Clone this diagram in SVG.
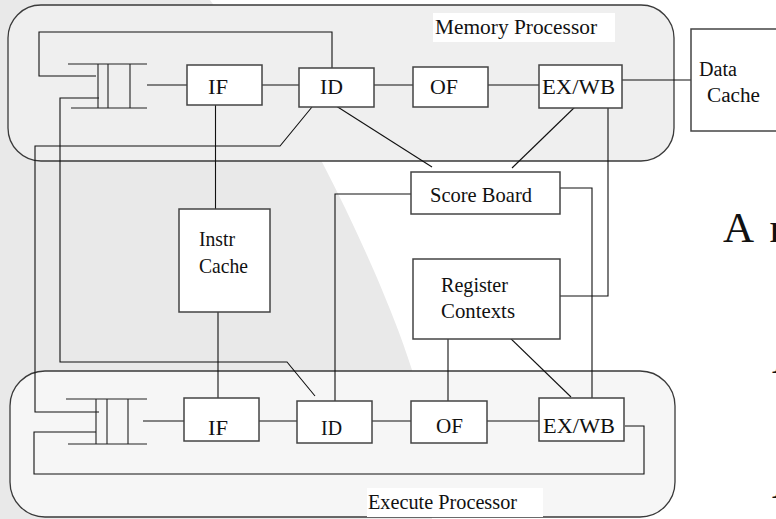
<svg xmlns="http://www.w3.org/2000/svg" width="776" height="519" viewBox="0 0 776 519">
<style>
.bg{fill:#e9e9e9}
.proc{stroke:#3a3a3a;stroke-width:1.3}
.node{fill:#ffffff;stroke:#444;stroke-width:1.5}
.ln{fill:none;stroke:#111;stroke-width:1.1}
.q{fill:none;stroke:#222;stroke-width:1.1}
text{font-family:"Liberation Serif","Times New Roman",serif;font-size:22px;fill:#111}
.lbl{fill:#ffffff}
</style>
<rect class="bg" x="0" y="0" width="776" height="519"/>
<path d="M210,0 C255,62 298,118 322,162 C360,235 396,318 412,370 L432,519 L776,519 L776,0 Z" fill="#ffffff"/>

<g id="memory-processor">
<rect class="proc" x="8" y="5" width="666" height="156" rx="33" ry="33" fill="#efefef"/>
<rect class="lbl" x="433" y="13" width="182" height="29"/>
<text x="435" y="34" textLength="162" lengthAdjust="spacingAndGlyphs">Memory Processor</text>
</g>
<g id="execute-processor">
<rect class="proc" x="10" y="371" width="665" height="146" rx="35" ry="35" fill="#f6f6f6"/>
<rect class="lbl" x="367" y="488" width="176" height="29"/>
<text x="368" y="509" textLength="149" lengthAdjust="spacingAndGlyphs">Execute Processor</text>
</g>

<g id="connectors">
<polyline class="ln" points="332,68 332,32 39,32 39,76 96,76"/>
<polyline class="ln" points="99,98 60,98 60,362 287,362 315,396"/>
<polyline class="ln" points="312,107 280,146 35,146 35,412 99,412"/>
<polyline class="ln" points="625,426 644,426 644,474 34,474 34,432 96,432"/>
<line class="ln" x1="147" y1="85" x2="187" y2="85"/>
<line class="ln" x1="262" y1="85" x2="299" y2="85"/>
<line class="ln" x1="374" y1="85" x2="413" y2="85"/>
<line class="ln" x1="488" y1="85" x2="539" y2="85"/>
<line class="ln" x1="622" y1="80" x2="691" y2="80"/>
<line class="ln" x1="143" y1="421" x2="184" y2="421"/>
<line class="ln" x1="259" y1="421" x2="297" y2="421"/>
<line class="ln" x1="372" y1="421" x2="411" y2="421"/>
<line class="ln" x1="487" y1="421" x2="539" y2="421"/>
<line class="ln" x1="215.5" y1="105" x2="215.5" y2="209"/>
<line class="ln" x1="218" y1="312" x2="218" y2="398"/>
<line class="ln" x1="333" y1="104" x2="432" y2="167"/>
<line class="ln" x1="577" y1="105" x2="512" y2="168"/>
<polyline class="ln" points="411,194 335,194 335,401"/>
<polyline class="ln" points="560,188 592,188 592,398"/>
<polyline class="ln" points="608,107 608,296 556,296"/>
<line class="ln" x1="448" y1="338" x2="448" y2="401"/>
<line class="ln" x1="508" y1="336" x2="571" y2="397"/>
</g>

<g id="queue-top">
<path class="q" d="M68,64 H147 M71,108 H147 M98,64 V108 M108,64 V108 M130,64 V108"/>
</g>
<g id="if-top"><rect class="node" x="187" y="65" width="75" height="40"/><text x="208" y="94" textLength="20" lengthAdjust="spacingAndGlyphs">IF</text></g>
<g id="id-top"><rect class="node" x="299" y="68" width="75" height="39"/><text x="320" y="94" textLength="23" lengthAdjust="spacingAndGlyphs">ID</text></g>
<g id="of-top"><rect class="node" x="413" y="67" width="75" height="40"/><text x="430" y="94" textLength="28" lengthAdjust="spacingAndGlyphs">OF</text></g>
<g id="exwb-top"><rect class="node" x="539" y="65" width="83" height="43"/><text x="542" y="94" textLength="73" lengthAdjust="spacingAndGlyphs">EX/WB</text></g>
<g id="data-cache"><rect class="node" x="691" y="29" width="100" height="102"/><text x="699" y="76" style="font-size:20px" textLength="38" lengthAdjust="spacingAndGlyphs">Data</text><text x="707" y="102" style="font-size:20px" textLength="53" lengthAdjust="spacingAndGlyphs">Cache</text></g>
<g id="instr-cache"><rect class="node" x="179" y="209" width="91" height="103"/><text x="199" y="246" textLength="36" lengthAdjust="spacingAndGlyphs">Instr</text><text x="199" y="273" textLength="49" lengthAdjust="spacingAndGlyphs">Cache</text></g>
<g id="score-board"><rect class="node" x="411" y="172" width="149" height="42"/><text x="430" y="202" textLength="102" lengthAdjust="spacingAndGlyphs">Score Board</text></g>
<g id="register-contexts"><rect class="node" x="413" y="259" width="147" height="80"/><text x="441" y="292" textLength="67" lengthAdjust="spacingAndGlyphs">Register</text><text x="441" y="318" textLength="74" lengthAdjust="spacingAndGlyphs">Contexts</text></g>

<g id="queue-bottom">
<path class="q" d="M66,399 H147 M68,444 H147 M96,399 V444 M107,399 V444 M128,399 V444"/>
</g>
<g id="if-bottom"><rect class="node" x="184" y="398" width="75" height="43"/><text x="208" y="435" textLength="20" lengthAdjust="spacingAndGlyphs">IF</text></g>
<g id="id-bottom"><rect class="node" x="297" y="401" width="75" height="42"/><text x="321" y="435" textLength="21" lengthAdjust="spacingAndGlyphs">ID</text></g>
<g id="of-bottom"><rect class="node" x="411" y="401" width="76" height="42"/><text x="436" y="433" textLength="27" lengthAdjust="spacingAndGlyphs">OF</text></g>
<g id="exwb-bottom"><rect class="node" x="539" y="398" width="85" height="43"/><text x="543" y="433" textLength="72" lengthAdjust="spacingAndGlyphs">EX/WB</text></g>

<g id="side-text">
<text x="723" y="242" style="font-size:43px" xml:space="preserve" word-spacing="7">A r</text>
<text x="772" y="373" style="font-size:43px">A</text>
<text x="772" y="498" style="font-size:43px">A</text>
</g>
</svg>
